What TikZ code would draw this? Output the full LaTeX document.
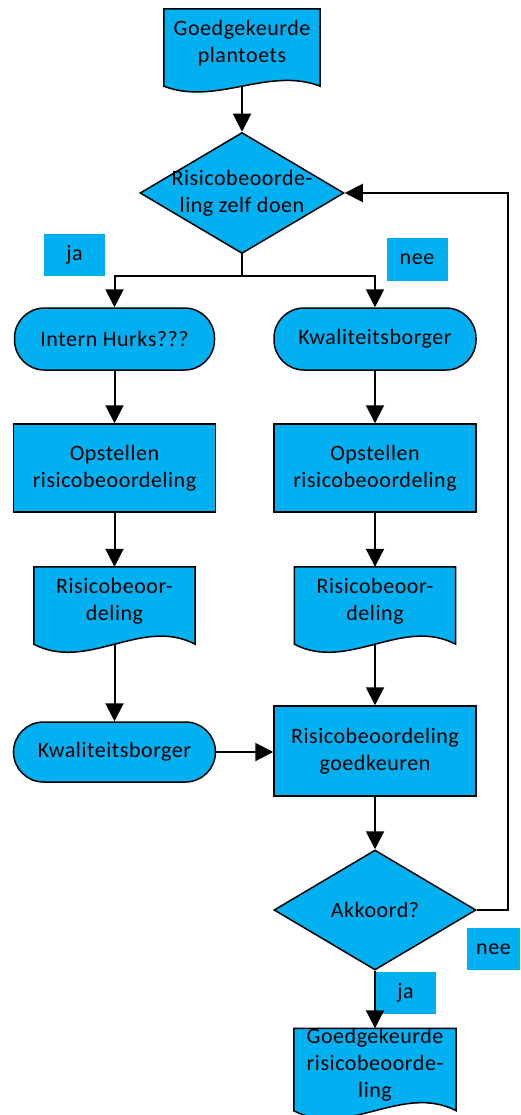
\documentclass[tikz,border=0pt]{standalone}
\usepackage{fontspec}
\setmainfont{Carlito}[LetterSpace=2.5]
\usetikzlibrary{positioning,shapes.geometric,arrows.meta,backgrounds,calc}
\definecolor{boxblue}{HTML}{00B0F0}
% wavy document outline behind a named node
\newcommand{\docwave}[2][28pt]{%
  \begin{pgfonlayer}{background}
    \draw[fill=boxblue, line width=1.5pt]
      (#2.north west) -- (#2.north east) -- ([yshift=-9pt]#2.south east)
      .. controls ($([yshift=-9pt]#2.south east)!1/3!([yshift=-9pt]#2.south west)+(0,#1)$)
      and ($([yshift=-9pt]#2.south east)!2/3!([yshift=-9pt]#2.south west)-(0,#1)$)
      .. ([yshift=-9pt]#2.south west) -- cycle;
  \end{pgfonlayer}}

\begin{document}
\begin{tikzpicture}[x=1pt, y=-1pt, on grid, font=\fontsize{22}{27}\selectfont]
        \tikzstyle{arrow} = [line width=2pt,-{Triangle[width=18pt,length=18pt]}]
        \tikzstyle{docu} = [rectangle, minimum width=161pt, minimum height=68pt, inner sep=0pt, text centered, align=center]
        \tikzstyle{process} = [rectangle, minimum width=202pt, minimum height=88pt, text centered, align=center, draw=black, line width=1.5pt, fill=boxblue]
        \tikzstyle{terminal} = [rectangle, rounded corners=30pt, minimum width=202pt, minimum height=62pt, text centered, draw=black, line width=1.5pt, fill=boxblue]
        \tikzstyle{decision} = [diamond, shape aspect=1.69, inner xsep=-8pt, inner ysep=0pt, minimum width=204pt, minimum height=121pt, align=center, draw=black, line width=1.5pt, fill=boxblue]
        \tikzstyle{answer} = [rectangle, minimum width=61pt, minimum height=42pt, inner sep=0pt, fill=boxblue]
        \useasboundingbox (0,0) rectangle (520,1115);

        \node (risk) [decision] at (242,193) {Risicobeoorde-\\ling zelf doen};
        \node (plan) [docu, minimum width=156pt, above=150pt of risk] {Goedgekeurde\\plantoets};
        \node (intern) [terminal, minimum width=200pt] at (114.5,339) {Intern Hurks???};
        \node (kwal) [terminal, right=260.5pt of intern] {Kwaliteitsborger};
        \node (opstL) [process, below=129pt of intern] {Opstellen\\risicobeoordeling};
        \node (docL) [docu, below=133pt of opstL] {Risicobeoor-\\deling};
        \node (kwalL) [terminal, minimum height=60pt, below=151pt of docL] {Kwaliteitsborger};
        \node (opstR) [process, below=129pt of kwal] {Opstellen\\risicobeoordeling};
        \node (docR) [docu, below=133pt of opstR] {Risicobeoor-\\deling};
        \node (goed) [process, minimum height=90pt, below=150pt of docR] {Risicobeoordeling\\goedkeuren};
        \node (akk) [decision, minimum width=202pt, minimum height=120pt, below=159pt of goed] {Akkoord?};
        \node (final) [docu, minimum width=162pt, below=155pt of akk] {Goedgekeurde\\risicobeoorde-\\ling};
        \docwave[20pt]{plan}
        \docwave{docL}
        \docwave{docR}
        \docwave{final}

        \node (jaSplit) [answer] at (74.5,255) {ja};
        \node (neeSplit) [answer] at (417,259.5) {nee};
        \node (neeBack) [answer, minimum width=53pt] at (493.5,949) {nee};
        \node (jaDown) [answer] at (405.5,993) {ja};

        \draw [arrow] ([yshift=-9pt]plan.south) -- (risk);
        \draw [line width=2pt] (risk.south) -- ++(0,22) coordinate (split);
        \draw [arrow] (split) -| (intern);
        \draw [arrow] (split) -| (kwal);
        \draw [arrow] (intern) -- (opstL);
        \draw [arrow] (opstL) -- (docL);
        \draw [arrow] ([yshift=-9pt]docL.south) -- (kwalL);
        \draw [arrow] (kwal) -- (opstR);
        \draw [arrow] (opstR) -- (docR);
        \draw [arrow] ([yshift=-9pt]docR.south) -- (goed);
        \draw [arrow] (kwalL.east) -- (kwalL.east -| goed.west);
        \draw [arrow] (goed) -- (akk);
        \draw [arrow] (akk.east) -- ++(31,0) |- (risk.east);
        \draw [arrow] (akk) -- (final);

    \end{tikzpicture}
\end{document}
